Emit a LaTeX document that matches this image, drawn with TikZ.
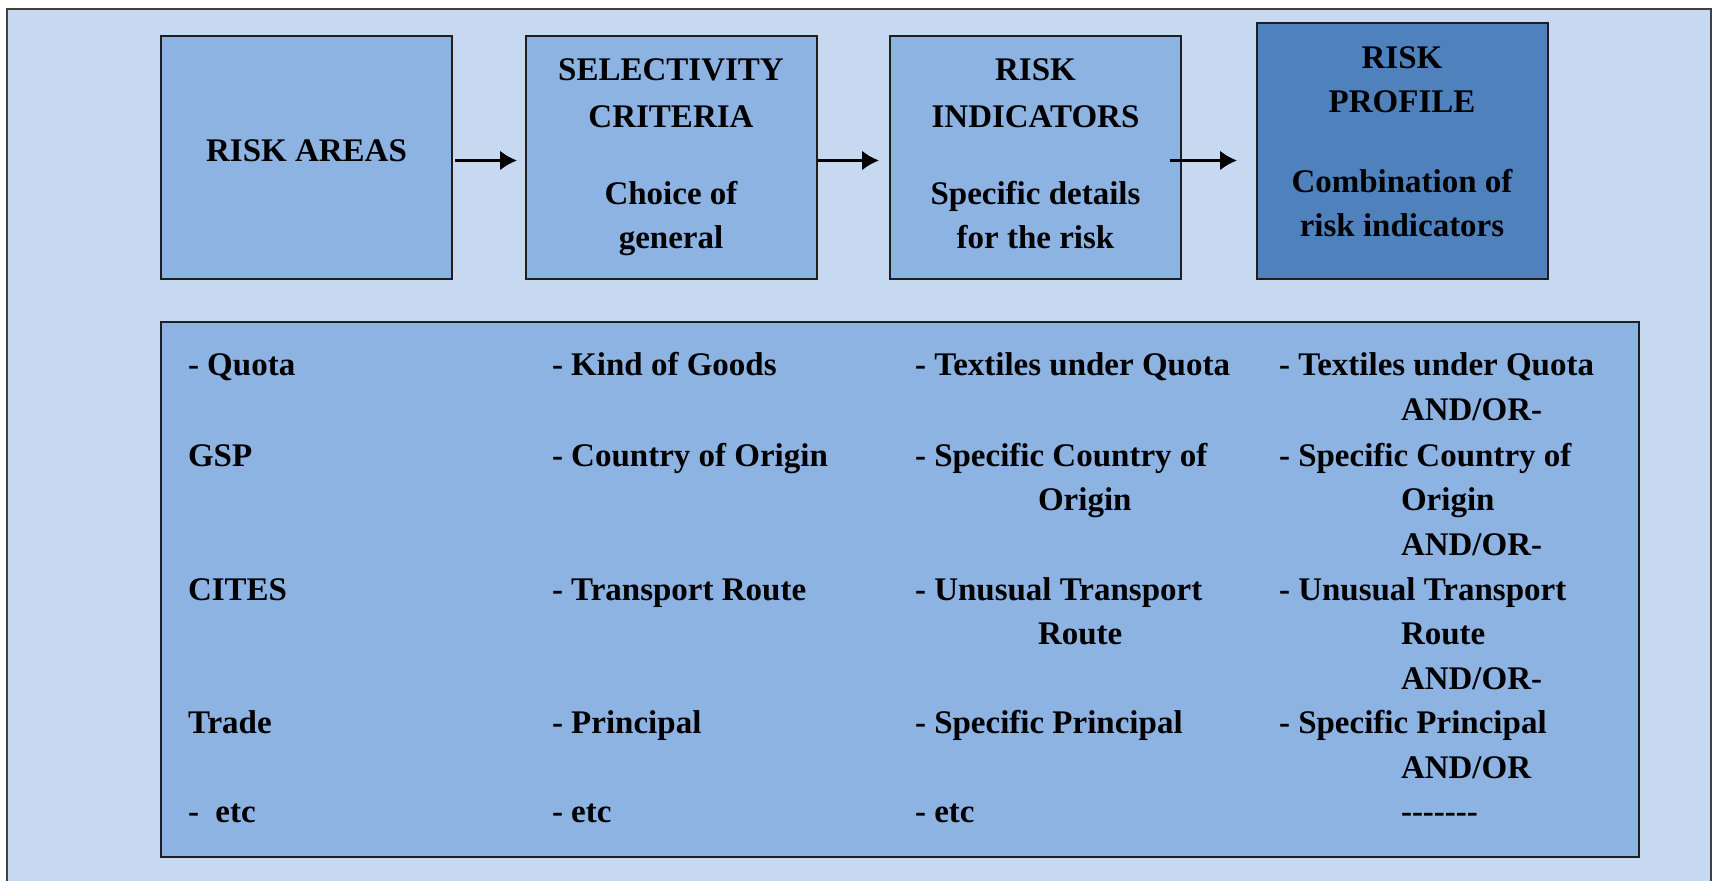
\documentclass[tikz,border=0pt]{standalone}
\usepackage{fontspec}
\setmainfont{Liberation Serif}
\usetikzlibrary{arrows.meta}
\definecolor{bgblue}{HTML}{C6D9F0}
\definecolor{boxblue}{HTML}{8DB3E2}
\definecolor{darkblue}{HTML}{4F81BD}
\definecolor{edge}{HTML}{1E1E1E}
\tikzset{
  box/.style={draw=edge, line width=1pt, fill=boxblue, rectangle, inner sep=0pt, outer sep=0pt},
  txt/.style={inner sep=0pt, outer sep=0pt, font=\fontsize{16.5}{20}\selectfont\bfseries, anchor=base},
  cell/.style={txt, anchor=base west},
  arr/.style={line width=1.5pt, -{Latex[length=8.5pt,width=10pt]}}
}
\begin{document}
\begin{tikzpicture}[x=0.5pt,y=-0.5pt]
\useasboundingbox (0,0) rectangle (1713,880);
% outer frame
\begin{scope}
\clip (0,0) rectangle (1713,880);
\draw[draw=edge!85, line width=1pt, fill=bgblue] (7,9) rectangle (1711,900);
\end{scope}
% top boxes
\node[box, minimum width=145.5pt, minimum height=121.5pt] (b1) at (306.5,157) {};
\node[box, minimum width=145.5pt, minimum height=121.5pt] (b2) at (671,157) {};
\node[box, minimum width=145.5pt, minimum height=121.5pt] (b3) at (1035.5,157) {};
\node[box, fill=darkblue, minimum width=145.5pt, minimum height=127.75pt] (b4) at (1402,150.75) {};
% bottom box
\node[box, minimum width=739pt, minimum height=267.5pt] (bb) at (900,589.5) {};
% texts in top boxes
\node[txt] (t1) at (306.5,161) {RISK AREAS};
\node[txt] (t2a) at (671,80) {SELECTIVITY};
\node[txt] (t2b) at (671,127) {CRITERIA};
\node[txt] (t2c) at (671,204) {Choice of};
\node[txt] (t2d) at (671,248) {general};
\node[txt] (t3a) at (1035.5,80) {RISK};
\node[txt] (t3b) at (1035.5,127) {INDICATORS};
\node[txt] (t3c) at (1035.5,204) {Specific details};
\node[txt] (t3d) at (1035.5,248) {for the risk};
\node[txt] (t4a) at (1402,68) {RISK};
\node[txt] (t4b) at (1402,112) {PROFILE};
\node[txt] (t4c) at (1402,192) {Combination of};
\node[txt] (t4d) at (1402,236) {risk indicators};
% arrows
\draw[arr] ([shift={(3,3.5)}]b1.east) -- ([shift={(-8.5,3.5)}]b2.west);
\draw[arr] ([shift={(1,3.5)}]b2.east) -- ([shift={(-11,3.5)}]b3.west);
\draw[arr] ([shift={(-11,3.5)}]b3.east) -- ([shift={(-19.5,9.75)}]b4.west);
% column 1
\node[cell] (c1a) at (188,375) {- Quota};
\node[cell] (c1b) at (188,466) {GSP};
\node[cell] (c1c) at (188,600) {CITES};
\node[cell] (c1d) at (188,733) {Trade};
\node[cell] (c1e) at (188,822) {-\ \ etc};
% column 2
\node[cell] (c2a) at (552,375) {- Kind of Goods};
\node[cell] (c2b) at (552,466) {- Country of Origin};
\node[cell] (c2c) at (552,600) {- Transport Route};
\node[cell] (c2d) at (552,733) {- Principal};
\node[cell] (c2e) at (552,822) {- etc};
% column 3
\node[cell] (c3a) at (915,375) {- Textiles under Quota};
\node[cell] (c3b) at (915,466) {- Specific Country of};
\node[cell] (c3c) at (1038,510) {Origin};
\node[cell] (c3d) at (915,600) {- Unusual Transport};
\node[cell] (c3e) at (1038,644) {Route};
\node[cell] (c3f) at (915,733) {- Specific Principal};
\node[cell] (c3g) at (915,822) {- etc};
% column 4
\node[cell] (c4a) at (1279,375) {- Textiles under Quota};
\node[cell] (c4b) at (1401,420) {AND/OR-};
\node[cell] (c4c) at (1279,466) {- Specific Country of};
\node[cell] (c4d) at (1401,510) {Origin};
\node[cell] (c4e) at (1401,555) {AND/OR-};
\node[cell] (c4f) at (1279,600) {- Unusual Transport};
\node[cell] (c4g) at (1401,644) {Route};
\node[cell] (c4h) at (1401,689) {AND/OR-};
\node[cell] (c4i) at (1279,733) {- Specific Principal};
\node[cell] (c4j) at (1401,778) {AND/OR};
\node[cell] (c4k) at (1401,822) {-{}-{}-{}-{}-{}-{}-};
\end{tikzpicture}
\end{document}
